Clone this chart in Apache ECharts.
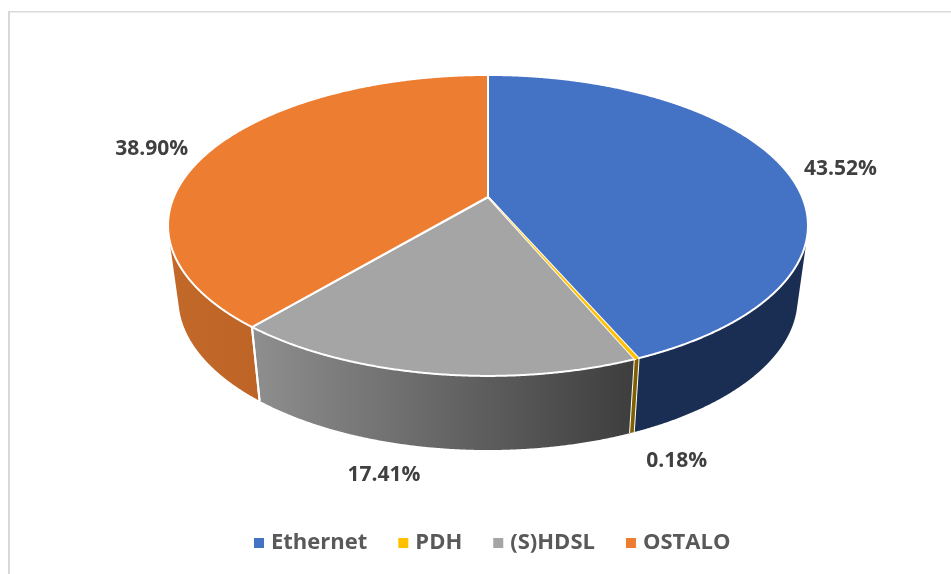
<!DOCTYPE html>
<html>
<head>
<meta charset="utf-8">
<title>Pie</title>
<script src="https://cdn.jsdelivr.net/npm/echarts@6/dist/echarts.min.js"></script>
<style>
html,body{margin:0;padding:0;background:#fff;}
#main{width:951px;height:574px;}
</style>
</head>
<body>
<div id="main"></div>
<script>
const categories = ['Ethernet', 'PDH', '(S)HDSL', 'OSTALO'];
const shares = [43.52, 0.18, 17.41, 38.90];
const labels = ['43.52%', '0.18%', '17.41%', '38.90%'];

const topColors = ['#4472c4', '#ffc000', '#a5a5a5', '#ed7d31'];
const labelOffsets = [[56, 0], [40, 102], [-46, 102], [-59, -1]];

// disc projection, the picture has perspective so hub is not the ellipse centre
const persp = -0.189;
const topDisc = { x: 488, y: 197, a: 314.2, b: 145.1 };
const lowDisc = { x: 488, y: 270, a: 304, b: 146 };

const total = shares.reduce((s, v) => s + v, 0);

function project(disc, deg) {
  const r = deg * Math.PI / 180;
  const X = Math.sin(r), Y = -Math.cos(r);
  const d = 1 + persp * Y;
  return [disc.x + disc.a * X / d, disc.y + disc.b * Y / d];
}

function arc(disc, from, to) {
  const pts = [];
  const n = Math.max(2, Math.ceil((to - from) * 4));
  for (let i = 0; i <= n; i++) pts.push(project(disc, from + (to - from) * i / n));
  return pts;
}

function wallFill(i) {
  if (i === 0) return '#1a2d52';
  if (i === 1) return '#7f6000';
  if (i === 2) return new echarts.graphic.LinearGradient(255, 0, 632, 0, [
    { offset: 0, color: '#8e8e8e' }, { offset: 1, color: '#3e3e3e' }
  ], true);
  return new echarts.graphic.LinearGradient(170, 0, 258, 0, [
    { offset: 0, color: '#c2692a' }, { offset: 1, color: '#bd6426' }
  ], true);
}

// only the part of the rim that faces the viewer, it stops at the silhouette
function frontFacing(deg) {
  const p = project(topDisc, deg);
  const q = project(topDisc, deg + 0.1);
  const l = project(lowDisc, deg);
  return (q[0] - p[0]) * (l[1] - p[1]) - (q[1] - p[1]) * (l[0] - p[0]) < 0;
}

function wallPieces(i, from, to, thin) {
  const upper = arc(topDisc, from, to);
  const lower = arc(lowDisc, from, to);
  const keep = upper.map((p, k) => frontFacing(from + (to - from) * k / (upper.length - 1)));
  const up = upper.filter((p, k) => keep[k]);
  const low = lower.filter((p, k) => keep[k]);
  const out = [];
  if (up.length < 2) return out;
  out.push({
    type: 'polygon', z2: thin ? 2 : 1,
    shape: { points: up.concat(low.reverse()) },
    style: { fill: wallFill(i) }
  });
  if (!thin) {
    [[upper[0], lower[0], keep[0]], [upper[upper.length - 1], lower[lower.length - 1], keep[keep.length - 1]]].forEach(e => {
      if (!e[2]) return;
      out.push({
        type: 'line', z2: 1.5,
        shape: { x1: e[0][0], y1: e[0][1], x2: e[1][0], y2: e[1][1] },
        style: { stroke: '#fff', lineWidth: 2 }
      });
    });
  }
  return out;
}

function renderSlice(i) {
  return function () {
    const from = shares.slice(0, i).reduce((s, v) => s + v, 0) / total * 360;
    const to = from + shares[i] / total * 360;
    const thin = shares[i] < 1;
    const face = [[topDisc.x, topDisc.y]].concat(arc(topDisc, from, to));
    const mid = project(topDisc, (from + to) / 2);
    return {
      type: 'group',
      children: wallPieces(i, from, to, thin).concat([
        {
          type: 'polygon', z2: thin ? 4 : 3,
          shape: { points: face },
          style: { fill: topColors[i], stroke: thin ? null : '#fff', lineWidth: 2 }
        },
        {
          type: 'text', z2: 5,
          x: mid[0] + labelOffsets[i][0],
          y: mid[1] + labelOffsets[i][1],
          style: {
            text: labels[i], fill: '#404040', align: 'center', verticalAlign: 'middle',
            font: 'bold 21px "Open Sans"'
          }
        }
      ])
    };
  };
}

const chart = echarts.init(document.getElementById('main'));
chart.setOption({
  animation: false,
  backgroundColor: '#fff',
  legend: {
    left: 254,
    top: 532,
    padding: 0,
    icon: 'rect',
    itemWidth: 10,
    itemHeight: 10,
    itemGap: 31,
    itemStyle: { borderWidth: 0 },
    textStyle: { fontFamily: 'Open Sans', fontWeight: 'bold', fontSize: 22, color: '#595959', padding: [0, 0, 0, 2] },
    data: categories
  },
  graphic: [
    { type: 'rect', silent: true, shape: { x: 8, y: 11, width: 2, height: 563 }, style: { fill: '#d9d9d9' } },
    { type: 'rect', silent: true, shape: { x: 8, y: 11, width: 943, height: 1.5 }, style: { fill: '#d9d9d9' } }
  ],
  series: categories.map((name, i) => ({
    type: 'custom',
    name: name,
    coordinateSystem: 'none',
    silent: true,
    itemStyle: { color: topColors[i] },
    data: [shares[i]],
    renderItem: renderSlice(i)
  }))
});
</script>
</body>
</html>
